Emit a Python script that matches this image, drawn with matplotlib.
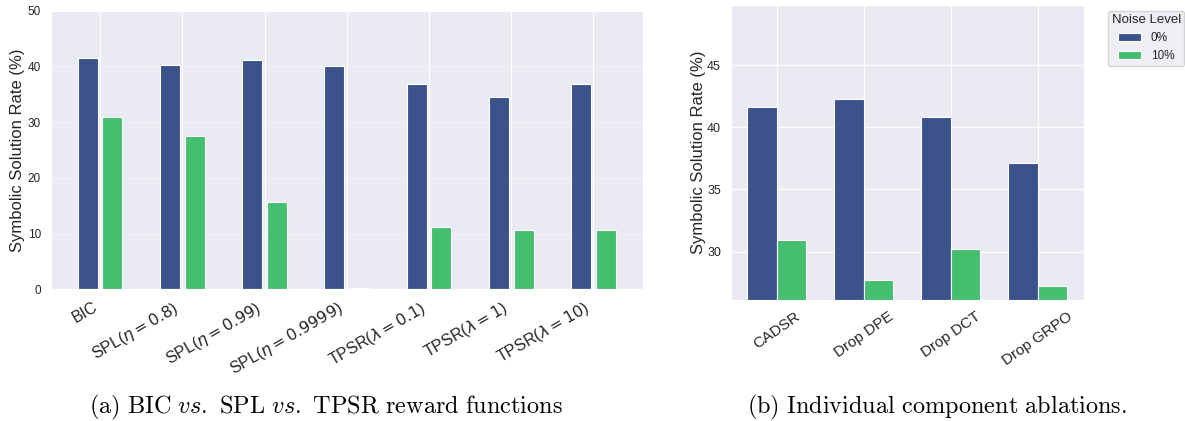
import numpy as np
import matplotlib
matplotlib.use('Agg')
import matplotlib.pyplot as plt
import seaborn as sns

# reward function comparison (left) and component ablations (right)
categories_a = ['BIC', r'SPL($\eta=0.8$)', r'SPL($\eta=0.99$)', r'SPL($\eta=0.9999$)',
                r'TPSR($\lambda=0.1$)', r'TPSR($\lambda=1$)', r'TPSR($\lambda=10$)']
rate_a_clean = [41.6, 40.2, 41.1, 40.1, 36.8, 34.6, 36.8]
rate_a_noisy = [30.9, 27.6, 15.7, 0.3, 11.1, 10.6, 10.7]

categories_b = ['CADSR', 'Drop DPE', 'Drop DCT', 'Drop GRPO']
rate_b_clean = [41.6, 42.3, 40.8, 37.1]
rate_b_noisy = [30.9, 27.7, 30.2, 27.2]

noise_levels = ['0%', '10%']
colors = ['#3b528b', '#44bf70']

sns.set_style('darkgrid')
plt.rcParams['font.family'] = ['Liberation Sans', 'DejaVu Sans']
text_color = '#262626'

fig = plt.figure(figsize=(11.85, 4.21), dpi=100)
ax_a = fig.add_axes([0.0428, 0.3128, 0.4996, 0.6618])
ax_b = fig.add_axes([0.6166, 0.2874, 0.2981, 0.7007])

# left panel: narrow bars with a gap between noise levels
x_a = np.arange(len(categories_a))
w_a = 0.243
ax_a.bar(x_a - 0.15, rate_a_clean, w_a, color=colors[0], edgecolor='white', linewidth=0.8)
ax_a.bar(x_a + 0.15, rate_a_noisy, w_a, color=colors[1], edgecolor='white', linewidth=0.8)
ax_a.set_xlim(-0.6, len(categories_a) - 0.4)
ax_a.set_ylim(0, 50)
ax_a.set_xticks(x_a)
ax_a.set_xticklabels(categories_a, rotation=30, ha='right', fontsize=11.5, color=text_color)
ax_a.set_yticks([0, 10, 20, 30, 40, 50])
ax_a.tick_params(axis='y', labelsize=8.5, labelcolor=text_color)
ax_a.grid(axis='y', alpha=0.35)
ax_a.set_ylabel('Symbolic Solution Rate (%)', fontsize=12, color=text_color, labelpad=2)

# right panel: touching bars
x_b = np.arange(len(categories_b))
w_b = 0.338
ax_b.bar(x_b - w_b / 2, rate_b_clean, w_b, color=colors[0], edgecolor='white',
         linewidth=0.8, label=noise_levels[0])
ax_b.bar(x_b + w_b / 2, rate_b_noisy, w_b, color=colors[1], edgecolor='white',
         linewidth=0.8, label=noise_levels[1])
ax_b.set_xlim(-0.53, len(categories_b) - 0.47)
ax_b.set_ylim(26.1, 49.85)
ax_b.set_xticks(x_b)
ax_b.set_xticklabels(categories_b, rotation=35, ha='center', fontsize=11, color=text_color)
ax_b.set_yticks([30, 35, 40, 45])
ax_b.tick_params(axis='y', labelsize=9, labelcolor=text_color)
ax_b.set_ylabel('Symbolic Solution Rate (%)', fontsize=12, color=text_color, labelpad=1)

leg = ax_b.legend(title='Noise Level', loc='upper left',
                  bbox_to_anchor=(1108 / 1185, 1 - 10.7 / 421),
                  bbox_transform=fig.transFigure, fontsize=8.5, title_fontsize=9.5,
                  frameon=True, borderaxespad=0, borderpad=0.3)
leg.get_title().set_color(text_color)
for t in leg.get_texts():
    t.set_color(text_color)

fig.text(0.275, 0.033,
         r'$\mathrm{(a)\ BIC}\ \mathit{vs.}\ \mathrm{SPL}\ \mathit{vs.}\ \mathrm{TPSR\ reward\ functions}$',
         math_fontfamily='cm', ha='center', va='center', fontsize=17.5, color='black')
fig.text(0.791, 0.033, r'$\mathrm{(b)\ Individual\ component\ ablations.}$',
         math_fontfamily='cm', ha='center', va='center', fontsize=17.5, color='black')

fig.savefig('out.png', dpi=100)
